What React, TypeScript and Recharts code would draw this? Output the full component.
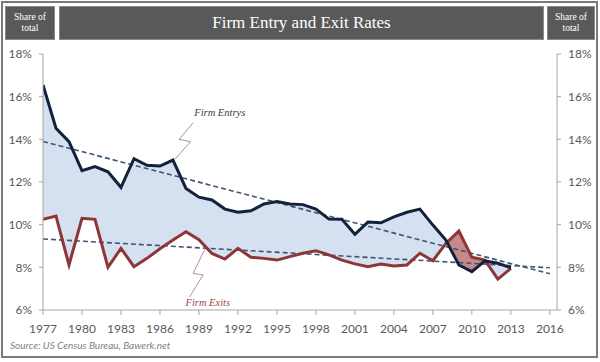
import React from 'react';
import { ComposedChart, Line, Area, XAxis, YAxis, ReferenceDot } from 'recharts';

const years = [
  1977, 1978, 1979, 1980, 1981, 1982, 1983, 1984, 1985, 1986, 1987, 1988, 1989,
  1990, 1991, 1992, 1993, 1994, 1995, 1996, 1997, 1998, 1999, 2000, 2001, 2002,
  2003, 2004, 2005, 2006, 2007, 2008, 2009, 2010, 2011, 2012, 2013,
];

const entryRate = [
  16.55, 14.52, 13.89, 12.53, 12.72, 12.48, 11.75, 13.09, 12.78, 12.75, 13.03, 11.7, 11.29,
  11.16, 10.73, 10.58, 10.65, 10.97, 11.08, 10.97, 10.94, 10.73, 10.26, 10.25, 9.55, 10.12,
  10.09, 10.37, 10.58, 10.73, 9.98, 9.28, 8.11, 7.8, 8.3, 8.19, 7.98,
];

const exitRate = [
  10.25, 10.4, 8.11, 10.3, 10.25, 8.0, 8.89, 8.03, 8.42, 8.87, 9.28, 9.67, 9.3,
  8.65, 8.39, 8.89, 8.47, 8.42, 8.34, 8.5, 8.66, 8.78, 8.58, 8.34, 8.16, 8.03,
  8.16, 8.06, 8.11, 8.66, 8.31, 9.12, 9.7, 8.47, 8.34, 7.45, 7.95,
];

const xTicks = [1977, 1980, 1983, 1986, 1989, 1992, 1995, 1998, 2001, 2004, 2007, 2010, 2013, 2016];
const yTicks = [6, 8, 10, 12, 14, 16, 18];

const entryTrend = [
  { year: 1977, v: 13.9 },
  { year: 2016, v: 7.7 },
];
const exitTrend = [
  { year: 1977, v: 9.33 },
  { year: 2016, v: 7.98 },
];

// points where exits rise above entries
const crossings = [
  { year: 2008.1, v: 9.2 },
  { year: 2011.05, v: 8.3 },
];
const exitAboveYears = [2009, 2010, 2011];

const entryLeader = [
  { year: 1988.55, v: 14.78 },
  { year: 1987.47, v: 14.0 },
  { year: 1988.35, v: 13.89 },
  { year: 1987.14, v: 13.06 },
];
const exitLeader = [
  { year: 1989.45, v: 8.85 },
  { year: 1988.55, v: 7.72 },
  { year: 1989.32, v: 7.64 },
  { year: 1988.29, v: 6.62 },
];

const mainData = years.map((year, i) => ({
  year,
  entry: entryRate[i],
  exit: exitRate[i],
  band: [exitRate[i], entryRate[i]],
}));

const redData = [
  { year: crossings[0].year, band: [crossings[0].v, crossings[0].v] },
  ...exitAboveYears.map((y) => {
    const i = years.indexOf(y);
    return { year: y, band: [entryRate[i], exitRate[i]] };
  }),
  { year: crossings[1].year, band: [crossings[1].v, crossings[1].v] },
];

const tickFont = { fontFamily: 'Lato, "Open Sans", sans-serif', fontSize: 12, fill: '#595959' };
const axisGray = '#a6a6a6';

const headerBox: React.CSSProperties = {
  position: 'absolute',
  top: 6,
  height: 34,
  background: '#595959',
  color: '#ffffff',
  display: 'flex',
  alignItems: 'center',
  justifyContent: 'center',
  textAlign: 'center',
  fontFamily: '"Liberation Serif", "DejaVu Serif", serif',
  boxSizing: 'border-box',
  border: '1px solid #8a8a8a',
};

export default function App() {
  return (
    <div
      style={{
        position: 'absolute',
        left: 0,
        top: 0,
        width: 600,
        height: 362,
        background: '#ffffff',
        overflow: 'hidden',
      }}
    >
      <div
        style={{
          position: 'absolute',
          left: 1,
          top: 1,
          width: 597,
          height: 357,
          border: '2px solid #7a7a7a',
          boxSizing: 'border-box',
        }}
      />
      <div style={{ ...headerBox, left: 5, width: 50, fontSize: 9.5, lineHeight: '11px' }}>
        Share of
        <br />
        total
      </div>
      <div style={{ ...headerBox, left: 59, width: 485, fontSize: 17 }}>Firm Entry and Exit Rates</div>
      <div style={{ ...headerBox, left: 547, width: 48, fontSize: 9.5, lineHeight: '11px' }}>
        Share of
        <br />
        total
      </div>
      <div style={{ position: 'absolute', left: 0, top: 0 }}>
        <ComposedChart width={600} height={362} margin={{ top: 54, right: 0, bottom: 0, left: 0 }}>
          <XAxis
            dataKey="year"
            type="number"
            domain={[1977, 2016.55]}
            ticks={xTicks}
            allowDataOverflow
            axisLine={{ stroke: axisGray }}
            tickLine={{ stroke: axisGray }}
            tickSize={5}
            tickMargin={9}
            height={52}
            tick={tickFont}
            interval={0}
          />
          <YAxis
            yAxisId="left"
            orientation="left"
            type="number"
            domain={[6, 18]}
            ticks={yTicks}
            allowDataOverflow
            width={43}
            axisLine={{ stroke: axisGray }}
            tickLine={{ stroke: axisGray }}
            tickSize={4}
            tickMargin={7}
            tick={tickFont}
            tickFormatter={(v) => `${v}%`}
          />
          <YAxis
            yAxisId="right"
            orientation="right"
            type="number"
            domain={[6, 18]}
            ticks={yTicks}
            allowDataOverflow
            width={43}
            axisLine={{ stroke: axisGray }}
            tickLine={{ stroke: axisGray }}
            tickSize={4}
            tickMargin={7}
            tick={tickFont}
            tickFormatter={(v) => `${v}%`}
          />
          <Area
            yAxisId="left"
            data={mainData}
            dataKey="band"
            type="linear"
            stroke="none"
            fill="#d5e0f0"
            fillOpacity={1}
            isAnimationActive={false}
            activeDot={false}
          />
          <Area
            yAxisId="left"
            data={redData}
            dataKey="band"
            type="linear"
            stroke="none"
            fill="#c5898a"
            fillOpacity={1}
            isAnimationActive={false}
            activeDot={false}
          />
          <Line
            yAxisId="left"
            data={entryTrend}
            dataKey="v"
            type="linear"
            stroke="#3e5673"
            strokeWidth={1.6}
            strokeDasharray="5 3"
            dot={false}
            activeDot={false}
            isAnimationActive={false}
          />
          <Line
            yAxisId="left"
            data={exitTrend}
            dataKey="v"
            type="linear"
            stroke="#3e5673"
            strokeWidth={1.6}
            strokeDasharray="5 3"
            dot={false}
            activeDot={false}
            isAnimationActive={false}
          />
          <Line
            yAxisId="left"
            data={mainData}
            dataKey="exit"
            type="linear"
            stroke="#8e3636"
            strokeWidth={3}
            dot={false}
            activeDot={false}
            isAnimationActive={false}
          />
          <Line
            yAxisId="left"
            data={mainData}
            dataKey="entry"
            type="linear"
            stroke="#13223a"
            strokeWidth={3}
            dot={false}
            activeDot={false}
            isAnimationActive={false}
          />
          <Line
            yAxisId="left"
            data={entryLeader}
            dataKey="v"
            type="linear"
            stroke="#7f7f7f"
            strokeWidth={0.8}
            dot={false}
            activeDot={false}
            isAnimationActive={false}
          />
          <Line
            yAxisId="left"
            data={exitLeader}
            dataKey="v"
            type="linear"
            stroke="#a07070"
            strokeWidth={0.8}
            dot={false}
            activeDot={false}
            isAnimationActive={false}
          />
          <ReferenceDot
            yAxisId="left"
            x={1990.6}
            y={15.25}
            r={0}
            fill="none"
            stroke="none"
            label={{
              value: 'Firm Entrys',
              position: 'center',
              fill: '#404040',
              fontSize: 10.5,
              fontStyle: 'italic',
              fontFamily: '"Liberation Serif", serif',
            }}
          />
          <ReferenceDot
            yAxisId="left"
            x={1989.68}
            y={6.34}
            r={0}
            fill="none"
            stroke="none"
            label={{
              value: 'Firm Exits',
              position: 'center',
              fill: '#9a4a4a',
              fontSize: 10.5,
              fontStyle: 'italic',
              fontFamily: '"Liberation Serif", serif',
            }}
          />
        </ComposedChart>
      </div>
      <div
        style={{
          position: 'absolute',
          left: 10,
          top: 339,
          fontFamily: 'Lato, sans-serif',
          fontStyle: 'italic',
          fontSize: 10,
          color: '#7f7f7f',
          whiteSpace: 'nowrap',
        }}
      >
        Source: US Census Bureau, Bawerk.net
      </div>
    </div>
  );
}
